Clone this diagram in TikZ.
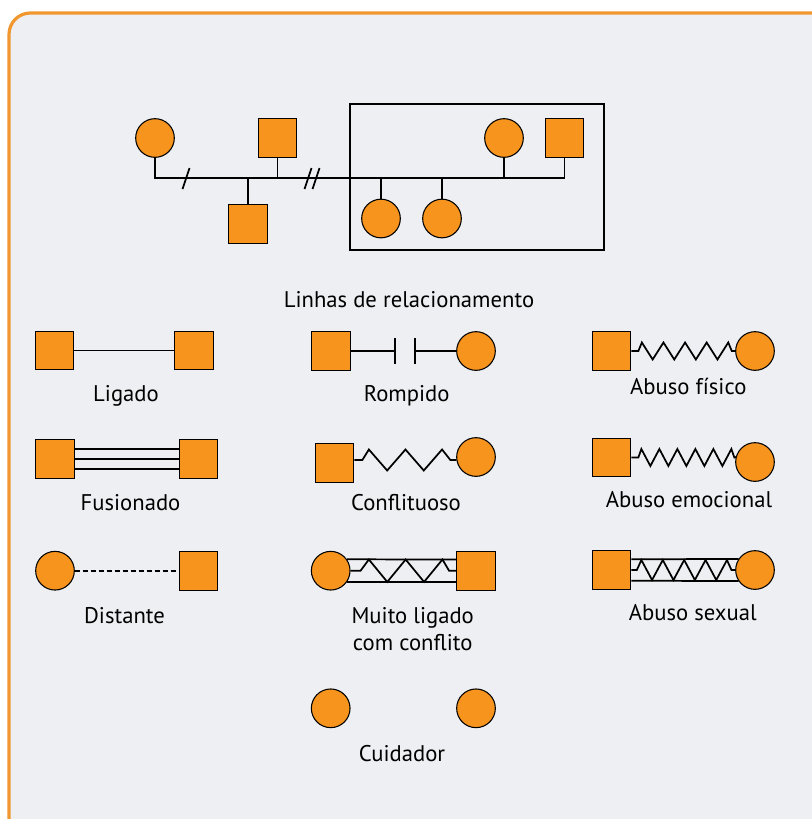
\documentclass[tikz,border=0pt]{standalone}
\usepackage{fontspec}
\setmainfont{PT Sans}
\definecolor{laranja}{RGB}{247,148,29}
\definecolor{moldura}{RGB}{241,151,48}
\definecolor{papel}{RGB}{238,239,242}

\begin{document}
\begin{tikzpicture}[x=0.75pt,y=-0.75pt,
  fem/.style={circle,draw,fill=laranja,minimum size=29pt,inner sep=0pt,line width=0.8pt},
  masc/.style={rectangle,draw,fill=laranja,minimum size=29pt,inner sep=0pt,line width=0.8pt},
  rotulo/.style={anchor=base,inner sep=0pt,font=\fontsize{17}{20}\selectfont},
  liga/.style={line width=1.3pt}]
\useasboundingbox (0,0) rectangle (812,819);
\clip (0,0) rectangle (812,819);
\draw[moldura,line width=2.4pt,fill=papel,rounded corners=16pt] (9,13) rectangle (840,850);

% genograma
\node[fem] (c1) at (155,138) {};
\node[masc] (q1) at (277.5,138) {};
\node[masc] (q2) at (248,224) {};
\node[fem] (c2) at (504,138) {};
\node[masc] (q3) at (564.5,138) {};
\node[fem] (c3) at (381,218.5) {};
\node[fem] (c4) at (442,218.5) {};
\coordinate (barra) at (0,178);
\draw[liga] (c1.south) |- (q3 |- barra) -- (q3.south);
\foreach \p in {q1,c2} \draw[liga] (\p.south) -- (\p |- barra);
\foreach \p in {q2,c3,c4} \draw[liga] (\p.north) -- (\p |- barra);
\draw[liga] (182.5,189) -- ++(7,-21);
\draw[liga] (304.5,189) -- ++(7,-21) (312.5,189) -- ++(7,-21);
\draw[liga] (350,104) rectangle (604,250);
\node[rotulo] (t0) at (409,307) {Linhas de relacionamento};

% ligado
\node[masc] (l1) at (54.5,350.5) {};
\node[masc] (l2) at (193.7,350.5) {};
\draw[liga] (l1.east) -- (l2.west);
\node[rotulo] (t1) at (126,401.7) {Ligado};

% rompido
\node[masc] (r1) at (331,351) {};
\node[fem] (r2) at (476,351) {};
\coordinate (rc1) at (395,351);
\coordinate (rc2) at (415,351);
\draw[liga] (r1.east) -- (rc1) (rc2) -- (r2.west);
\draw[liga] ([yshift=9.75pt]rc1) -- ([yshift=-9.75pt]rc1) ([yshift=9.75pt]rc2) -- ([yshift=-9.75pt]rc2);
\node[rotulo] (t2) at (406.7,401.7) {Rompido};

% abuso fisico
\node[masc] (af1) at (611.5,351) {};
\node[fem] (af2) at (755,351) {};
\draw[liga] (af1.east) -- ++(7,0) -- ++(3.5,-8.5) \foreach \i in {1,...,4} { -- ++(10.8,17) -- ++(10.8,-17)} -- ++(3.5,8.5) -- (af2.west);
\node[rotulo] (t3) at (688.3,394) {Abuso físico};

% fusionado
\node[masc] (fu1) at (55,459) {};
\node[masc] (fu2) at (198.5,459) {};
\draw[liga] (fu1.east) -- (fu2.west) ([yshift=7.5pt]fu1.east) -- ([yshift=7.5pt]fu2.west) ([yshift=-7.5pt]fu1.east) -- ([yshift=-7.5pt]fu2.west);
\node[rotulo] (t4) at (130.5,510.7) {Fusionado};

% conflituoso
\node[masc] (k1) at (334.5,463) {};
\node[fem] (k2) at (476,457) {};
\draw[liga] ([yshift=2.25pt]k1.east) -- ++(8,0) -- ++(6.5,-10.5) \foreach \i in {1,2} { -- ++(18.3,21) -- ++(18.3,-21)} -- ++(8.3,10.5) -- (k2.189);
\node[rotulo] (t5) at (406,510.5) {Conflituoso};

% abuso emocional
\node[masc] (ae1) at (611.5,457.5) {};
\node[fem] (ae2) at (755,462) {};
\draw[liga] (ae1.east) -- ++(7,0) -- ++(3,-8.5) \foreach \i in {1,...,5} { -- ++(9,17) -- ++(9,-17)} -- ++(3,8.5) -- (ae2.165);
\node[rotulo] (t6) at (689,507.3) {Abuso emocional};

% distante
\node[fem] (d1) at (55,570.7) {};
\node[masc] (d2) at (198.5,570.7) {};
\draw[liga,dash pattern=on 3.5pt off 2.5pt] (d1.east) -- (d2.west);
\node[rotulo] (t7) at (124.5,623) {Distante};

% muito ligado com conflito
\node[fem] (mc1) at (330.7,570.7) {};
\node[masc] (mc2) at (476.2,570.7) {};
\draw[liga] (mc1.35) -- ([yshift=8.4pt]mc2.west) (mc1.-35) -- ([yshift=-8.4pt]mc2.west);
\draw[liga] (mc1.east) -- ++(10,0) -- ++(8.3,-11.2) \foreach \i in {1,2} { -- ++(18.4,22.4) -- ++(18.4,-22.4)} -- ++(6.6,11.2) -- (mc2.west);
\node[rotulo,align=center] (t8) at (412.7,650) {Muito ligado\\com conflito};

% abuso sexual
\node[masc] (as1) at (611.5,570) {};
\node[fem] (as2) at (755,570) {};
\draw[liga] ([yshift=8pt]as1.east) -- (as2.146) ([yshift=-8pt]as1.east) -- (as2.214);
\draw[liga] (as1.east) -- ++(5.5,0) -- ++(4.5,-10) \foreach \i in {1,...,4} { -- ++(10.7,20) -- ++(10.7,-20)} -- ++(4.5,10) -- (as2.west);
\node[rotulo] (t9) at (692.8,620) {Abuso sexual};

% cuidador
\node[fem] (cu1) at (330.7,708.3) {};
\node[fem] (cu2) at (476,708.3) {};
\node[rotulo] (t10) at (402,761.7) {Cuidador};
\end{tikzpicture}
\end{document}
